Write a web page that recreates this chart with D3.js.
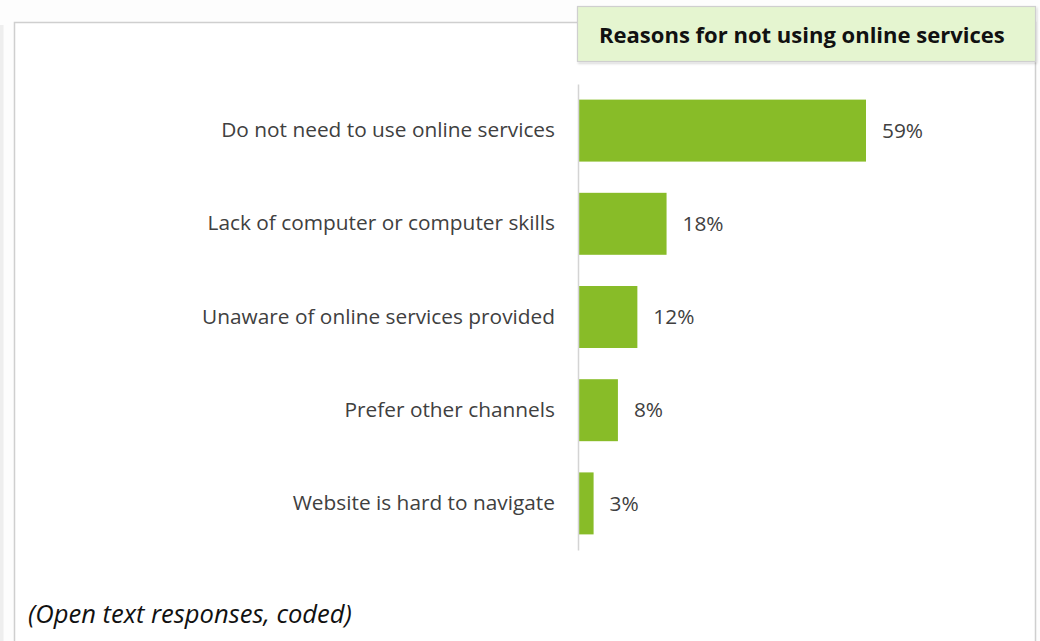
<!DOCTYPE html>
<html>
<head>
<meta charset="utf-8">
<script src="https://cdn.jsdelivr.net/npm/d3@7"></script>
<style>
  html, body { margin: 0; padding: 0; background: #fdfdfd; }
  svg { display: block; }
</style>
</head>
<body>
<svg id="chart" width="1040" height="641"></svg>
<script>
// Survey results: reasons respondents gave for not using online services
const categories = [
  "Do not need to use online services",
  "Lack of computer or computer skills",
  "Unaware of online services provided",
  "Prefer other channels",
  "Website is hard to navigate"
];
const values = [59, 18, 12, 8, 3];
const valueLabels = ["59%", "18%", "12%", "8%", "3%"];
const title = "Reasons for not using online services";
const footnote = "(Open text responses, coded)";

const svg = d3.select("#chart");
const W = 1040, H = 641;
const FONT = "'Open Sans', sans-serif";

// size a text element so that it spans the given width
function fitWidth(sel, width, base) {
  sel.attr("font-size", base);
  const w = sel.node().getComputedTextLength();
  const size = base * width / w;
  sel.attr("font-size", size);
  return size;
}

// defs: soft shadow for the title box
const defs = svg.append("defs");
const f = defs.append("filter").attr("id", "shadow").attr("x", "-5%").attr("y", "-20%").attr("width", "110%").attr("height", "150%");
f.append("feDropShadow").attr("dx", 1).attr("dy", 1.5).attr("stdDeviation", 1.2).attr("flood-color", "#000").attr("flood-opacity", 0.18);

// left page strip
svg.append("rect").attr("x", 0).attr("y", 25).attr("width", 3.5).attr("height", H - 25).attr("fill", "#eeeeee");

// panel frame
svg.append("rect")
  .attr("x", 14.5).attr("y", 22.5).attr("width", 1021).attr("height", 640)
  .attr("fill", "#ffffff").attr("stroke", "#cfcfcf").attr("stroke-width", 1.5);

// scales
const x = d3.scaleLinear().domain([0, 59]).range([579, 866]);
const y = d3.scaleBand().domain(categories).range([84, 550]).paddingInner(0.335).paddingOuter(0.1675);

// bars
svg.append("g").selectAll("rect").data(categories).join("rect")
  .attr("x", x(0))
  .attr("y", d => y(d))
  .attr("width", (d, i) => x(values[i]) - x(0))
  .attr("height", y.bandwidth())
  .attr("fill", "#88bc28");

// category axis
const axis = svg.append("g").attr("transform", `translate(${x(0) - 1},0)`)
  .call(d3.axisLeft(y).tickSize(0).tickPadding(23));
axis.select(".domain").attr("stroke", "#d4d4d4").attr("stroke-width", 1.5);
const tickText = axis.selectAll("text")
  .attr("font-family", FONT)
  .attr("fill", "#404040");
const labelSize = fitWidth(d3.select(tickText.nodes()[0]), 334, 18);
tickText.attr("font-size", labelSize);

// value labels
svg.append("g").selectAll("text").data(categories).join("text")
  .attr("x", (d, i) => x(values[i]) + 16)
  .attr("y", d => y(d) + y.bandwidth() / 2)
  .attr("dy", "0.35em")
  .attr("font-family", FONT)
  .attr("font-size", labelSize)
  .attr("fill", "#404040")
  .text((d, i) => valueLabels[i]);

// title box
svg.append("rect")
  .attr("x", 577.5).attr("y", 6.5).attr("width", 458).attr("height", 55)
  .attr("fill", "#e5f5d0").attr("stroke", "#cfcfcf").attr("stroke-width", 1.2)
  .attr("filter", "url(#shadow)");
const titleText = svg.append("text")
  .attr("x", 599).attr("y", 35)
  .attr("dy", "0.35em")
  .attr("font-family", FONT)
  .attr("font-weight", "bold")
  .attr("fill", "#111")
  .text(title);
fitWidth(titleText, 406, 20);

// footnote
const foot = svg.append("text")
  .attr("x", 28).attr("y", 614)
  .attr("dy", "0.35em")
  .attr("font-family", FONT)
  .attr("font-style", "italic")
  .attr("fill", "#111")
  .text(footnote);
fitWidth(foot, 324, 20);
</script>
</body>
</html>
